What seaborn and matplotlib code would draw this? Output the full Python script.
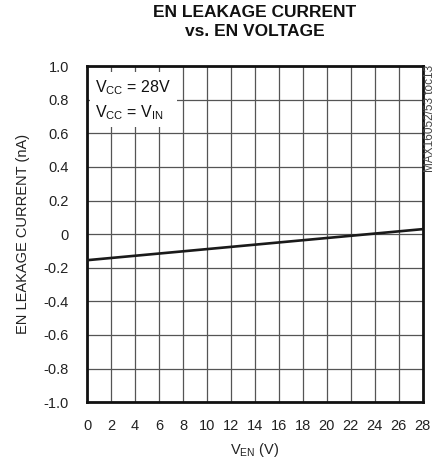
import numpy as np
import pandas as pd
import seaborn as sns
import matplotlib.pyplot as plt

# data
v_en = [0, 28]
leak_na = [-0.155, 0.03]
x_ticks = list(range(0, 29, 2))
y_ticks = [1.0, 0.8, 0.6, 0.4, 0.2, 0, -0.2, -0.4, -0.6, -0.8, -1.0]
y_labels = ["1.0", "0.8", "0.6", "0.4", "0.2", "0", "-0.2", "-0.4", "-0.6", "-0.8", "-1.0"]

df = pd.DataFrame({"ven": v_en, "leak": leak_na})

sns.set_style("white")
plt.rcParams["font.family"] = ["Liberation Sans", "DejaVu Sans"]
plt.rcParams["mathtext.default"] = "regular"

fig = plt.figure(figsize=(4.35, 4.66), dpi=100)
ax = fig.add_axes([0.2, 0.137, 0.772, 0.721])

sns.lineplot(data=df, x="ven", y="leak", color="#1a1a1a", linewidth=1.9, ax=ax, zorder=3)

ax.set_xlim(0, 28)
ax.set_ylim(-1.0, 1.0)
ax.set_xticks(x_ticks)
ax.set_xticklabels([str(t) for t in x_ticks], fontsize=10.5)
ax.set_yticks(y_ticks)
ax.set_yticklabels(y_labels, fontsize=10.5)
ax.tick_params(axis="x", length=0, pad=12, colors="#222222")
ax.tick_params(axis="y", length=0, pad=13, colors="#222222")
ax.grid(True, color="#555555", linewidth=0.9)
for s in ax.spines.values():
    s.set_color("#111111")
    s.set_linewidth(2.0)

ax.set_xlabel(r"V$_{EN}$ (V)", fontsize=10.5, labelpad=6, color="#222222")
ax.set_ylabel("EN LEAKAGE CURRENT (nA)", fontsize=10.5, labelpad=10, color="#222222")

fig.text(0.586, 0.99, "EN LEAKAGE CURRENT\nvs. EN VOLTAGE", ha="center", va="top",
         fontsize=12.5, fontweight="bold", linespacing=1.4, color="#111111")

ax.text(0.025, 0.965, "V$_{CC}$ = 28V\nV$_{CC}$ = V$_{IN}$", transform=ax.transAxes,
        ha="left", va="top", fontsize=11.5, linespacing=1.45, zorder=4, color="#111111",
        bbox=dict(facecolor="white", edgecolor="none", pad=4))

fig.text(0.988, 0.86, "MAX16052/53 toc13", rotation=90, ha="center", va="top",
         fontsize=8.5, color="#444444")

fig.savefig("out.png", dpi=100)
